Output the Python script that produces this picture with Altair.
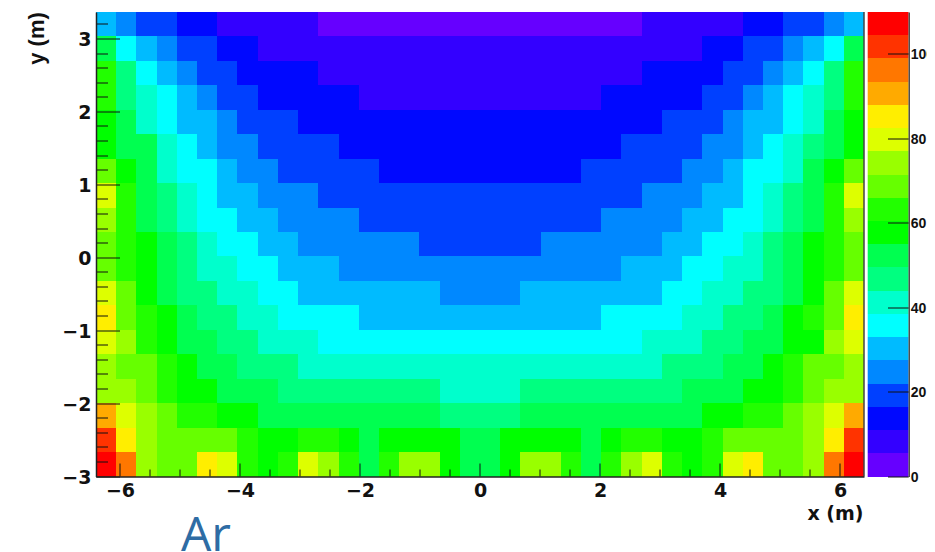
import altair as alt
import pandas as pd

# colour band (0-19) of each histogram cell, rows from top to bottom
rows = [
 [5,4,3,3,2,2,1,1,1,1,1,0,0,0,0,0,0,0,0,0,0,0,0,0,0,0,0,1,1,1,1,1,2,2,3,3,4,5],
 [9,6,5,4,3,3,2,2,1,1,1,1,1,1,1,1,1,1,1,1,1,1,1,1,1,1,1,1,1,1,2,2,3,3,4,5,6,9],
 [11,8,6,5,4,3,3,2,2,2,2,1,1,1,1,1,1,1,1,1,1,1,1,1,1,1,1,2,2,2,2,3,3,4,5,6,8,11],
 [11,8,7,6,5,4,3,3,2,2,2,2,2,1,1,1,1,1,1,1,1,1,1,1,1,2,2,2,2,2,3,3,4,5,6,7,8,11],
 [10,9,7,6,5,5,4,3,3,3,2,2,2,2,2,2,2,2,2,2,2,2,2,2,2,2,2,2,3,3,3,4,5,5,6,7,9,10],
 [10,9,9,7,6,5,4,4,3,3,3,3,2,2,2,2,2,2,2,2,2,2,2,2,2,2,3,3,3,3,4,4,5,6,7,8,9,10],
 [12,10,9,7,6,6,5,4,4,3,3,3,3,3,2,2,2,2,2,2,2,2,2,2,3,3,3,3,3,4,4,5,6,6,7,9,10,12],
 [14,11,9,8,7,6,5,5,4,4,4,3,3,3,3,3,3,3,3,3,3,3,3,3,3,3,3,4,4,4,5,5,6,7,8,9,11,14],
 [13,11,9,8,7,6,6,5,5,4,4,4,4,3,3,3,3,3,3,3,3,3,3,3,3,4,4,4,4,5,5,6,6,7,8,9,11,13],
 [12,11,10,9,8,7,6,6,5,5,4,4,4,4,4,4,3,3,3,3,3,3,4,4,4,4,4,4,5,5,6,6,7,8,9,10,11,12],
 [12,11,10,9,8,7,7,6,6,5,5,5,4,4,4,4,4,4,4,4,4,4,4,4,4,4,5,5,5,6,6,7,7,8,9,10,11,12],
 [14,12,10,9,8,8,7,7,6,6,5,5,5,5,5,5,5,4,4,4,4,5,5,5,5,5,5,5,6,6,7,7,8,8,9,10,12,14],
 [15,12,11,10,9,8,8,7,7,6,6,6,6,5,5,5,5,5,5,5,5,5,5,5,5,6,6,6,6,7,7,8,8,9,10,11,12,15],
 [14,13,11,10,9,9,8,8,7,7,7,6,6,6,6,6,6,6,6,6,6,6,6,6,6,6,6,7,7,7,8,8,9,9,10,10,13,14],
 [13,12,12,11,10,9,9,8,8,8,7,7,7,7,7,7,7,7,7,7,7,7,7,7,7,7,7,7,8,8,8,9,9,10,11,12,12,13],
 [13,13,12,11,10,10,9,9,9,8,8,8,8,8,8,8,8,7,7,7,7,8,8,8,8,8,8,8,8,9,9,9,10,10,11,12,13,13],
 [16,14,13,12,11,11,10,10,9,9,9,9,9,9,9,9,9,8,8,8,8,9,9,9,9,9,9,9,9,9,10,10,11,11,12,13,14,16],
 [18,15,13,12,12,12,12,11,10,10,11,11,10,9,10,10,10,10,9,9,10,10,10,10,9,10,11,11,10,10,11,12,12,12,12,13,15,18],
 [19,17,13,12,12,15,14,11,10,11,14,13,11,9,11,13,13,10,9,9,10,13,13,11,9,11,13,14,11,10,11,14,15,12,12,13,17,19],
]
palette = ["#6600ff","#3300ff","#0008ff","#0040ff","#0088ff","#00bbff","#00ffff",
           "#00ffcc","#00ff80","#00ff50","#00ff00","#22ff00","#66ff00","#99ff00",
           "#ddff00","#ffee00","#ffaa00","#ff7700","#ff3300","#ff0000"]
x_labels = [-6,-4,-2,0,2,4,6]
y_labels = [-3,-2,-1,0,1,2,3]
z_labels = [0,20,40,60,80,100]
x_minor = [-5.5,-5,-4.5,-3.5,-3,-2.5,-1.5,-1,-0.5,0.5,1,1.5,2.5,3,3.5,4.5,5,5.5]
y_minor = [-2.8,-2.6,-2.4,-2.2,-1.8,-1.6,-1.4,-1.2,-0.8,-0.6,-0.4,-0.2,0.2,0.4,0.6,0.8,
           1.2,1.4,1.6,1.8,2.2,2.4,2.6,2.8,3.2]
X_DOM = [-6.4, 6.4]
Y_DOM = [-3.0, 3.37]
Z_DOM = [0, 110]
W, H = 768, 464.5
FONT = "DejaVu Sans"

nrow, ncol = len(rows), len(rows[0])
dx = (X_DOM[1]-X_DOM[0])/ncol
dy = (Y_DOM[1]-Y_DOM[0])/nrow
cells = pd.DataFrame([
    {"x0": X_DOM[0]+c*dx, "x1": X_DOM[0]+(c+1)*dx,
     "y0": Y_DOM[1]-(r+1)*dy, "y1": Y_DOM[1]-r*dy, "band": rows[r][c]}
    for r in range(nrow) for c in range(ncol)
])
bands = pd.DataFrame([{"z0": i*5.5, "z1": (i+1)*5.5, "band": i} for i in range(20)])

xs = alt.Scale(domain=X_DOM, nice=False, zero=False, round=True)
ys = alt.Scale(domain=Y_DOM, nice=False, zero=False, round=True)
zs = alt.Scale(domain=Z_DOM, nice=False, zero=False, round=True)
cs = alt.Scale(domain=list(range(20)), range=palette)

heat = alt.Chart(cells).mark_rect().encode(
    x=alt.X("x0:Q", scale=xs, axis=alt.Axis(
        values=x_labels, format="d", ticks=False, grid=False, domainColor="#222", domainWidth=1.5,
        zindex=1,
        labelFont=FONT, labelFontWeight="bold", labelFontSize=19, labelColor="#111", labelPadding=5,
        title="x (m)", titleFont=FONT, titleFontWeight="bold", titleFontSize=19, titleColor="#111",
        titleAlign="right", titleAnchor="end", titleX=767, titleY=37, titleBaseline="middle")),
    x2="x1:Q",
    y=alt.Y("y0:Q", scale=ys, axis=alt.Axis(
        values=y_labels, format="d", ticks=False, grid=False, domainColor="#222", domainWidth=1.5,
        zindex=1,
        labelFont=FONT, labelFontWeight="bold", labelFontSize=19, labelColor="#111", labelPadding=5,
        title="y (m)", titleFont="Liberation Sans", titleFontWeight="bold", titleFontSize=22,
        titleColor="#111", titleAngle=270, titleX=-60, titleY=26,
        titleAlign="center", titleBaseline="middle")),
    y2="y1:Q",
    color=alt.Color("band:O", scale=cs, legend=None),
)

def xticks(vals, length):
    return alt.Chart(pd.DataFrame({"t": vals})).mark_rule(color="#111", strokeWidth=1).encode(
        x=alt.X("t:Q", scale=xs, axis=None), y=alt.value(H), y2=alt.value(H-length))

def yticks(vals, length):
    return alt.Chart(pd.DataFrame({"t": vals})).mark_rule(color="#111", strokeWidth=1).encode(
        y=alt.Y("t:Q", scale=ys, axis=None), x=alt.value(0), x2=alt.value(length))

right_edge = alt.Chart(pd.DataFrame({"t": [0]})).mark_rule(color="#444", strokeWidth=1.5).encode(
    x=alt.value(W), y=alt.value(0), y2=alt.value(H))

pal = alt.Chart(bands).mark_rect().encode(
    x=alt.value(771.7), x2=alt.value(812.5),
    y=alt.Y("z0:Q", scale=zs, axis=alt.Axis(
        orient="right", offset=44.7, values=z_labels, ticks=False, grid=False,
        domainColor="#222", domainWidth=1.2, title=None, zindex=1,
        labelFont="Liberation Sans", labelFontWeight="bold", labelFontSize=14,
        labelColor="#111", labelPadding=1.5)),
    y2="z1:Q",
    color=alt.Color("band:O", scale=cs, legend=None),
)
pal_ticks = alt.Chart(pd.DataFrame({"t": z_labels})).mark_rule(color="#111", strokeWidth=1).encode(
    y=alt.Y("t:Q", scale=zs, axis=None), x=alt.value(792), x2=alt.value(812.7))

ar = alt.Chart(pd.DataFrame({"label": ["Ar"]})).mark_text(
    font="Open Sans", fontSize=48, color="#2e6ca4", align="left", baseline="alphabetic", clip=False
).encode(text="label:N", x=alt.value(85), y=alt.value(538.5))

chart = alt.layer(
    heat, right_edge,
    xticks(x_labels, 13), xticks(x_minor, 7),
    yticks(y_labels, 24), yticks(y_minor, 12),
    pal, pal_ticks, ar
).resolve_scale(x="independent", y="independent").properties(
    width=W, height=H,
    autosize=alt.AutoSizeParams(type="none"),
    padding={"left": 88, "top": 4, "right": 63, "bottom": 75.5},
).configure_view(stroke=None)

chart.save("out.html", embed_options={"renderer": "svg", "actions": False})
